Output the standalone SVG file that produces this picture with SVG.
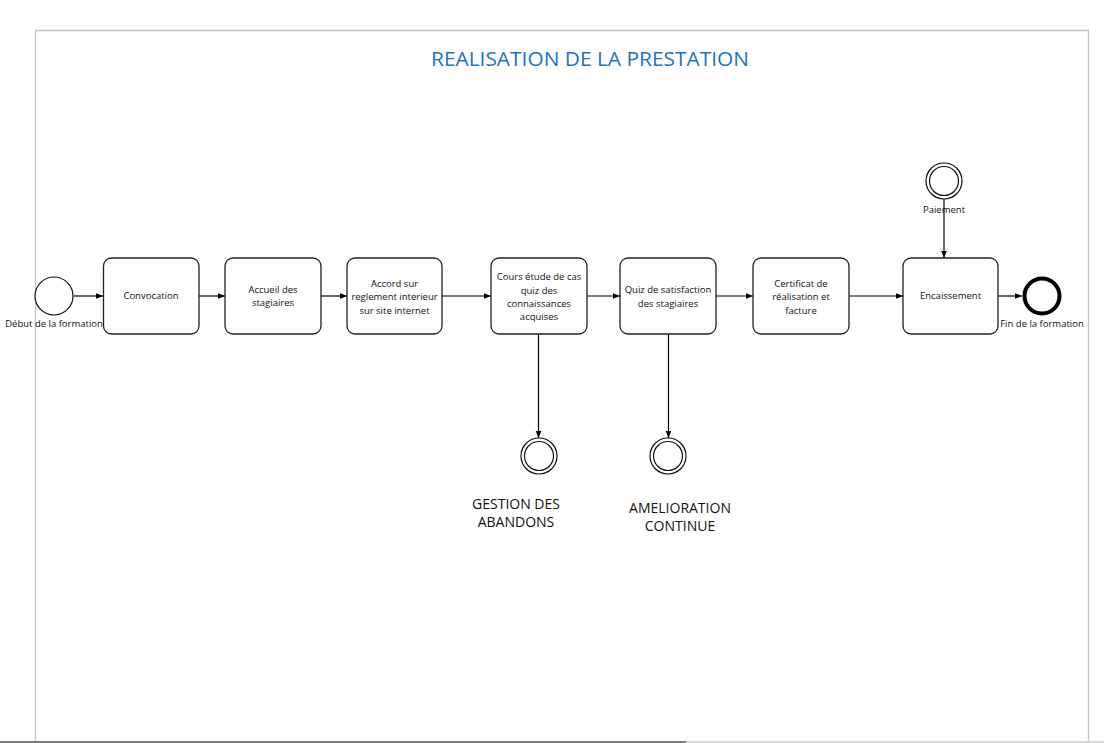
<svg xmlns="http://www.w3.org/2000/svg" width="1104" height="743" viewBox="0 0 1104 743">
<defs>
<style>
.frame{fill:none;stroke:#c4c4c4;stroke-width:1.3}
.task{fill:#fff;stroke:#222;stroke-width:1.3}
.ev{fill:#fff;stroke:#111;stroke-width:1.2}
.end{fill:#fff;stroke:#000;stroke-width:4}
.t{font-family:"Open Sans","Noto Sans",sans-serif;font-size:9.5px;fill:#111;text-anchor:middle}
.big{font-family:"Open Sans","Noto Sans",sans-serif;font-size:14px;fill:#111;text-anchor:middle}
.title{font-family:"Open Sans","Noto Sans",sans-serif;font-size:20px;fill:#1f72bc;text-anchor:middle}
.c{fill:none;stroke:#000;stroke-width:1.2}
</style>
<marker id="arr" viewBox="0 0 10 10" refX="10" refY="5" markerWidth="7" markerHeight="7" markerUnits="userSpaceOnUse" orient="auto">
<path d="M0,1 L10,5 L0,9 Z" fill="#000"/>
</marker>
</defs>
<rect width="1104" height="743" fill="#fff"/>
<g id="frame">
<path class="frame" d="M35.5,743 V30.5 H1088.5 V743"/>
<line x1="0" y1="742" x2="686" y2="742" stroke="#7a7a7a" stroke-width="2"/>
<line x1="686" y1="742" x2="1104" y2="742" stroke="#d8d8d8" stroke-width="2"/>
</g>
<text id="title" class="title" x="590" y="66" textLength="318" lengthAdjust="spacingAndGlyphs">REALISATION DE LA PRESTATION</text>
<g id="connectors">
<line class="c" x1="73.5" y1="296" x2="103" y2="296" marker-end="url(#arr)"/>
<line class="c" x1="199" y1="296" x2="225" y2="296" marker-end="url(#arr)"/>
<line class="c" x1="321" y1="296" x2="347" y2="296" marker-end="url(#arr)"/>
<line class="c" x1="442" y1="296" x2="491" y2="296" marker-end="url(#arr)"/>
<line class="c" x1="587" y1="296" x2="620" y2="296" marker-end="url(#arr)"/>
<line class="c" x1="716" y1="296" x2="753" y2="296" marker-end="url(#arr)"/>
<line class="c" x1="849" y1="296" x2="903" y2="296" marker-end="url(#arr)"/>
<line class="c" x1="998" y1="296" x2="1022" y2="296" marker-end="url(#arr)"/>
<line class="c" x1="944" y1="199" x2="944" y2="258" marker-end="url(#arr)"/>
<line class="c" x1="538.5" y1="334" x2="538.5" y2="438" marker-end="url(#arr)"/>
<line class="c" x1="668.5" y1="334" x2="668.5" y2="438" marker-end="url(#arr)"/>
</g>
<g id="start">
<circle class="ev" cx="54" cy="296" r="19"/>
<text class="t" x="54" y="327">Début de la formation</text>
</g>
<g id="convocation">
<rect class="task" x="103.5" y="258" width="95.5" height="76" rx="8"/>
<text class="t" x="151" y="299">Convocation</text>
</g>
<g id="accueil">
<rect class="task" x="225" y="258" width="96" height="76" rx="8"/>
<text class="t" x="273" y="292.5">Accueil des</text>
<text class="t" x="273" y="306">stagiaires</text>
</g>
<g id="accord">
<rect class="task" x="347" y="258" width="95" height="76" rx="8"/>
<text class="t" x="394.5" y="286.5">Accord sur</text>
<text class="t" x="394.5" y="300">reglement interieur</text>
<text class="t" x="394.5" y="313.5">sur site internet</text>
</g>
<g id="cours">
<rect class="task" x="491" y="258" width="96" height="76" rx="8"/>
<text class="t" x="539" y="280">Cours étude de cas</text>
<text class="t" x="539" y="293.5">quiz des</text>
<text class="t" x="539" y="307">connaissances</text>
<text class="t" x="539" y="320">acquises</text>
</g>
<g id="quiz">
<rect class="task" x="620" y="258" width="96" height="76" rx="8"/>
<text class="t" x="668" y="293">Quiz de satisfaction</text>
<text class="t" x="668" y="306.5">des stagiaires</text>
</g>
<g id="certificat">
<rect class="task" x="753" y="258" width="96" height="76" rx="8"/>
<text class="t" x="801" y="286.5">Certificat de</text>
<text class="t" x="801" y="300">réalisation et</text>
<text class="t" x="801" y="313.5">facture</text>
</g>
<g id="encaissement">
<rect class="task" x="903" y="258" width="95" height="76" rx="8"/>
<text class="t" x="950.5" y="299">Encaissement</text>
</g>
<g id="fin">
<circle class="end" cx="1042" cy="296" r="17.5"/>
<text class="t" x="1042" y="327">Fin de la formation</text>
</g>
<g id="paiement">
<circle class="ev" cx="944" cy="181" r="18"/>
<circle class="ev" cx="944" cy="181" r="14.5"/>
<text class="t" x="944" y="213">Paiement</text>
</g>
<g id="gestion">
<circle class="ev" cx="539" cy="456" r="18"/>
<circle class="ev" cx="539" cy="456" r="14.5"/>
<text class="big" x="516" y="509">GESTION DES</text>
<text class="big" x="516" y="527">ABANDONS</text>
</g>
<g id="amelioration">
<circle class="ev" cx="668" cy="456" r="18"/>
<circle class="ev" cx="668" cy="456" r="14.5"/>
<text class="big" x="680" y="513">AMELIORATION</text>
<text class="big" x="680" y="531">CONTINUE</text>
</g>
</svg>
